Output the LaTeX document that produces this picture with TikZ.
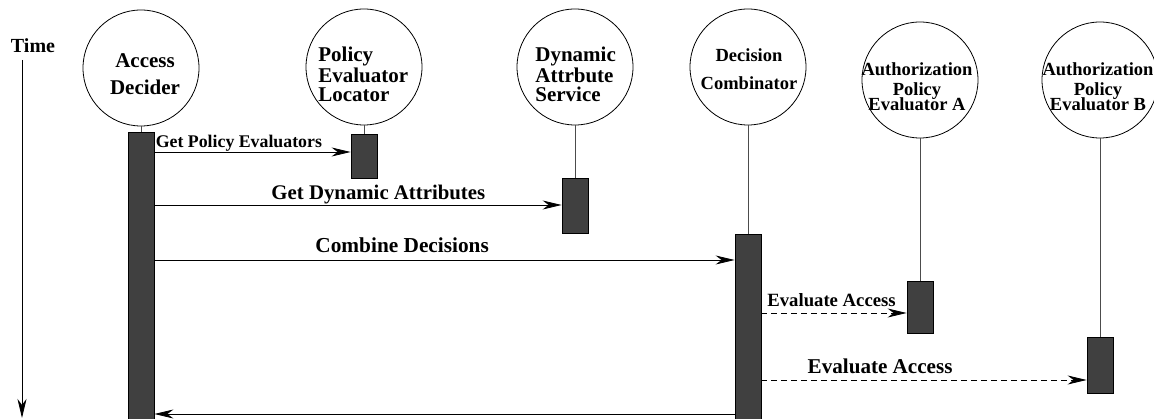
\documentclass[tikz,border=0pt]{standalone}
\usepackage{fontspec}
\setmainfont{Liberation Serif}
\usetikzlibrary{arrows.meta}
\definecolor{boxgray}{HTML}{404040}
\tikzset{
  actor/.style={circle, draw, minimum size=116pt, inner sep=0pt},
  actbox/.style={draw, fill=boxgray, minimum width=26pt, inner sep=0pt, anchor=north},
  lifeline/.style={draw=black!70},
  ctext/.style n args={2}{inner sep=0pt, font=\bfseries\fontsize{#1}{#2}\selectfont},
  lbl/.style={inner sep=0pt, font=\bfseries\fontsize{#1}{#1}\selectfont},
}
\begin{document}
\begin{tikzpicture}[x=1pt, y=-1pt, >={Stealth[length=19pt,width=9pt,inset=6pt]}, line width=.8pt]
\useasboundingbox (0,0) rectangle (1154,419);

% time axis
\node[lbl=20, anchor=base] (time) at (33,53) {Time};
\coordinate (t-top) at (22,60);
\coordinate (t-bot) at (22,418);
\draw[->] (t-top) -- (t-bot);

% objects
\node[actor] (ad) at (141,68) {};
\node[actor] (pel) at (364,67) {};
\node[actor] (das) at (575,67) {};
\node[actor] (dc) at (748,67) {};
\node[actor] (pea) at (920,80) {};
\node[actor] (peb) at (1100,80) {};

\node[ctext={21}{27}, align=center, anchor=north] (adt) at (145,53) {Access\\Decider};
\node[ctext={21}{19}, align=left, anchor=north west] (pelt) at (318,47) {Policy\\Evaluator\\Locator};
\node[ctext={21}{19}, align=left, anchor=north west] (dast) at (535,47) {Dynamic\\Attrbute\\Service};
\node[ctext={18.5}{28}, align=center, anchor=north] (dct) at (749,48) {Decision\\Combinator};
\node[ctext={18.5}{20}, align=center, anchor=north] (peat) at (917,62) {Authorization\\Policy\\[-5pt]Evaluator A};
\node[ctext={18.5}{20}, align=center, anchor=north] (pebt) at (1098,62) {Authorization\\Policy\\[-5pt]Evaluator B};

% activations
\node[actbox, minimum height=292pt] (act-ad) at (141,132) {};
\node[actbox, minimum height=44pt] (act-pel) at (364,134) {};
\node[actbox, minimum height=55pt] (act-das) at (575,178) {};
\node[actbox, minimum height=190pt] (act-dc) at (748,234) {};
\node[actbox, minimum height=52pt] (act-pea) at (920,281) {};
\node[actbox, minimum height=56pt] (act-peb) at (1100,337) {};

\foreach \a in {ad,pel,das,dc,pea,peb}
{
    \draw[lifeline] (\a.south) -- (act-\a.north);
}

% messages
\draw[->] (act-ad.east |- 0,152) -- node[lbl=17.8, pos=0, anchor=base west, xshift=1pt, yshift=4pt] {Get Policy Evaluators} (act-pel.west |- 0,152);
\draw[->] (act-ad.east |- 0,205) -- node[lbl=20.8, pos=.55, anchor=base, yshift=5pt] {Get Dynamic Attributes} (act-das.west |- 0,205);
\draw[->] (act-ad.east |- 0,260) -- node[lbl=21.3, pos=.427, anchor=base, yshift=7pt] {Combine Decisions} (act-dc.west |- 0,260);
\draw[->, dash pattern=on 6pt off 4pt] (act-dc.east |- 0,313) -- node[lbl=18.7, pos=.483, anchor=base, yshift=6pt] {Evaluate Access} (act-pea.west |- 0,313);
\draw[->, dash pattern=on 6pt off 4pt] (act-dc.east |- 0,380) -- node[lbl=21.1, pos=.365, anchor=base, yshift=6pt] {Evaluate Access} (act-peb.west |- 0,380);
\draw[->] (act-dc.west |- 0,414) -- (act-ad.east |- 0,414);

\end{tikzpicture}
\end{document}
